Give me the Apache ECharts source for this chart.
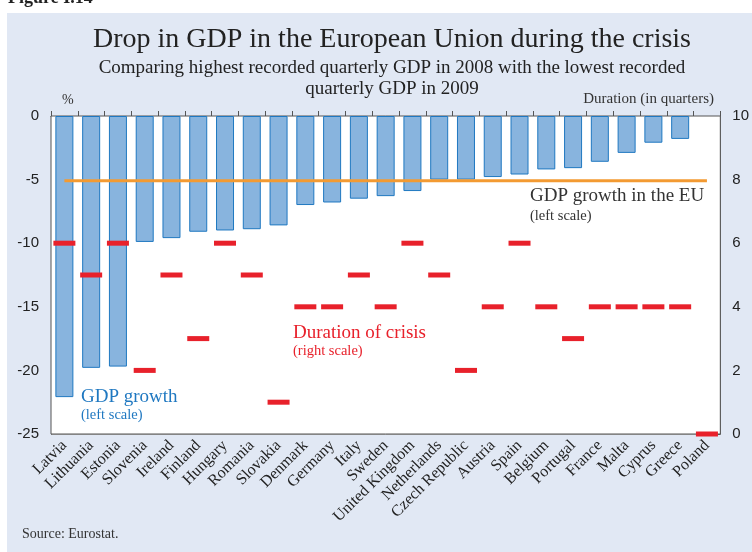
<!DOCTYPE html>
<html>
<head>
<meta charset="utf-8">
<script src="https://cdn.jsdelivr.net/npm/echarts@6/dist/echarts.min.js"></script>
<style>
  html, body { margin: 0; padding: 0; background: #ffffff; }
  #chart { width: 752px; height: 552px; }
</style>
</head>
<body>
<div id="chart"></div>
<script>
// Member states, ordered by the size of the GDP drop
const countries = ['Latvia', 'Lithuania', 'Estonia', 'Slovenia', 'Ireland', 'Finland', 'Hungary',
  'Romania', 'Slovakia', 'Denmark', 'Germany', 'Italy', 'Sweden', 'United Kingdom', 'Netherlands',
  'Czech Republic', 'Austria', 'Spain', 'Belgium', 'Portugal', 'France', 'Malta', 'Cyprus', 'Greece', 'Poland'];

// Peak 2008 quarter to trough 2009 quarter, % (left scale)
const gdpDrop = [-22.1, -19.8, -19.7, -9.9, -9.6, -9.1, -9.0, -8.9, -8.6, -7.0, -6.8, -6.5, -6.3,
  -5.9, -5.0, -5.0, -4.8, -4.6, -4.2, -4.1, -3.6, -2.9, -2.1, -1.8, 0];

// Length of the downturn, in quarters (right scale)
const crisisQuarters = [6, 5, 6, 2, 5, 3, 6, 5, 1, 4, 4, 5, 4, 6, 5, 2, 4, 6, 4, 3, 4, 4, 4, 4, 0];

// EU-wide drop, % (left scale)
const euDrop = -5.1;

// Axis ranges
const leftAxis = { min: -25, max: 0, step: 5 };
const rightAxis = { min: 0, max: 10, step: 2 };

const SERIF = '"Liberation Serif", "Times New Roman", serif';
const SANS = '"Liberation Sans", Arial, sans-serif';

const chart = echarts.init(document.getElementById('chart'), null, { renderer: 'canvas' });

// A country with no drop gets no visible bar outline either
const barData = gdpDrop.map(v => ({
  value: v,
  itemStyle: v === 0 ? { borderWidth: 0 } : undefined
}));

chart.setOption({
  animation: false,
  backgroundColor: '#ffffff',
  grid: {
    left: 51, right: 31, top: 116, bottom: 118,
    show: true, backgroundColor: '#ffffff', borderColor: '#555555', borderWidth: 1, z: 1
  },
  graphic: [
    { type: 'rect', z: -10, silent: true, shape: { x: 7, y: 13, width: 745, height: 539 },
      style: { fill: '#e1e8f4' } },
    { type: 'text', left: 8, top: -11, style: { text: 'Figure I.14', font: 'bold 18px ' + SERIF, fill: '#222' } },
    { type: 'text', left: 62, top: 93, style: { text: '%', font: '14px ' + SERIF, fill: '#333' } },
    { type: 'text', right: 38, top: 92, style: { text: 'Duration (in quarters)', font: '15px ' + SERIF, fill: '#333', textAlign: 'right' } },
    { type: 'text', left: 530, top: 187, z: 10, style: { text: 'GDP growth in the EU', font: '19px ' + SERIF, fill: '#333' } },
    { type: 'text', left: 530, top: 209, z: 10, style: { text: '(left scale)', font: '14.5px ' + SERIF, fill: '#333' } },
    { type: 'text', left: 293, top: 324, z: 10, style: { text: 'Duration of crisis', font: '19px ' + SERIF, fill: '#e8212b' } },
    { type: 'text', left: 293, top: 344, z: 10, style: { text: '(right scale)', font: '14.5px ' + SERIF, fill: '#e8212b' } },
    { type: 'text', left: 81, top: 388, z: 10, style: { text: 'GDP growth', font: '19px ' + SERIF, fill: '#1f78c1' } },
    { type: 'text', left: 81, top: 408, z: 10, style: { text: '(left scale)', font: '14.5px ' + SERIF, fill: '#1f78c1' } },
    { type: 'text', left: 22, top: 527, style: { text: 'Source: Eurostat.', font: '14px ' + SERIF, fill: '#333' } }
  ],
  title: {
    text: 'Drop in GDP in the European Union during the crisis',
    subtext: 'Comparing highest recorded quarterly GDP in 2008 with the lowest recorded\nquarterly GDP in 2009',
    left: 387, top: 21, textAlign: 'center', itemGap: 4,
    textStyle: { fontFamily: SERIF, fontSize: 28, fontWeight: 'normal', color: '#222' },
    subtextStyle: { fontFamily: SERIF, fontSize: 19, color: '#222', lineHeight: 21, align: 'center' }
  },
  xAxis: {
    type: 'category',
    data: countries,
    boundaryGap: true,
    axisLine: { show: true, lineStyle: { color: '#555555', width: 1 } },
    axisTick: { show: true, inside: true, length: 5, lineStyle: { color: '#555555' } },
    axisLabel: { rotate: 45, interval: 0, margin: 9, fontFamily: SERIF, fontSize: 16, color: '#222' }
  },
  yAxis: [
    {
      type: 'value', min: leftAxis.min, max: leftAxis.max, interval: leftAxis.step,
      axisLine: { show: true, lineStyle: { color: '#555555' } },
      axisTick: { show: false },
      axisLabel: { fontFamily: SANS, fontSize: 15, color: '#222', margin: 12 },
      splitLine: { show: true, lineStyle: { color: '#b4b4b4', width: 1 } }
    },
    {
      type: 'value', min: rightAxis.min, max: rightAxis.max, interval: rightAxis.step, position: 'right',
      axisLine: { show: true, lineStyle: { color: '#555555' } },
      axisTick: { show: true, inside: true, length: 4, lineStyle: { color: '#555555' } },
      axisLabel: { fontFamily: SANS, fontSize: 15, color: '#222', margin: 12 },
      splitLine: { show: false }
    }
  ],
  series: [
    {
      name: 'GDP growth', type: 'bar', yAxisIndex: 0, data: barData, barWidth: 18, z: 2,
      itemStyle: { color: '#88b4de', borderColor: '#1f78c1', borderWidth: 1 }
    },
    {
      name: 'GDP growth in the EU', type: 'line', yAxisIndex: 0,
      data: countries.map(() => euDrop), symbol: 'none', z: 3,
      lineStyle: { color: '#f39a32', width: 3 }
    },
    {
      name: 'Duration of crisis', type: 'scatter', yAxisIndex: 1, data: crisisQuarters,
      symbol: 'rect', symbolSize: [22, 5], z: 4,
      itemStyle: { color: '#e8212b', opacity: 1 }
    }
  ]
});
</script>
</body>
</html>
